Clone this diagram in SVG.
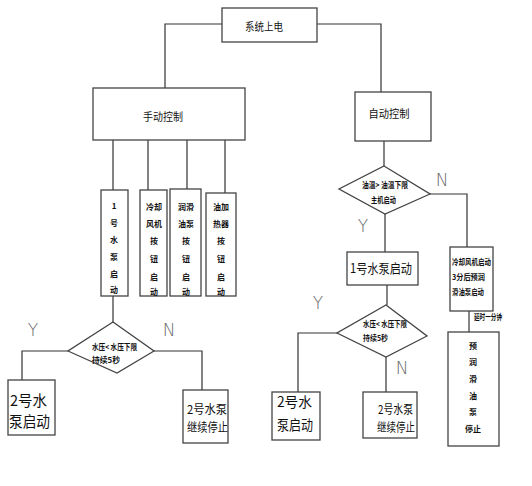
<svg xmlns="http://www.w3.org/2000/svg" width="532" height="486" viewBox="0 0 532 486">
<style>
.box{fill:#fff;stroke:#444;stroke-width:1.3}
.ln{fill:none;stroke:#333;stroke-width:1.2}
.t{font-family:"Noto Sans CJK SC","Liberation Sans",sans-serif;fill:#111}
.m{font-size:11px}
.l{font-size:13px}
.s{font-size:8px;font-weight:bold}
.c{text-anchor:middle}
.yn{font-family:"DejaVu Sans","Liberation Sans",sans-serif;font-size:17px;font-weight:200;fill:#666;text-anchor:middle}
</style>
<rect width="532" height="486" fill="#fff"/>
<g id="connectors" class="ln">
<path d="M222,24 H165 V88"/>
<path d="M317,24 H381 V92"/>
<path d="M113,140 V190 M148,140 V190 M187,140 V189 M225,140 V193"/>
<path d="M113,296 V322"/>
<path d="M68,351 H22 V380"/>
<path d="M154,351 H202 V390"/>
<path d="M384,141 V166"/>
<path d="M430,194 H467 V247"/>
<path d="M385,214 V252"/>
<path d="M387,285 V305"/>
<path d="M337,333 H298 V392"/>
<path d="M386,357 V392"/>
<path d="M469,311 V332"/>
</g>
<g id="labels">
<text class="yn" x="33" y="336">Y</text>
<text class="yn" x="169" y="336">N</text>
<text class="yn" x="363" y="232">Y</text>
<text class="yn" x="442" y="186">N</text>
<text class="yn" x="318" y="309">Y</text>
<text class="yn" x="402" y="374">N</text>
<text class="t s" x="474" y="320" textLength="28" lengthAdjust="spacingAndGlyphs">延时一分钟</text>
</g>
<g id="power">
<rect class="box" x="222" y="8" width="95" height="34"/>
<text class="t m c" x="264" y="31" textLength="38" lengthAdjust="spacingAndGlyphs">系统上电</text>
</g>
<g id="manual">
<rect class="box" x="93" y="88" width="152" height="52"/>
<text class="t m c" x="163" y="121" textLength="40" lengthAdjust="spacingAndGlyphs">手动控制</text>
</g>
<g id="auto">
<rect class="box" x="355" y="92" width="76" height="49"/>
<text class="t m c" x="389" y="118" textLength="41" lengthAdjust="spacingAndGlyphs">自动控制</text>
</g>
<g id="m1">
<rect class="box" x="101" y="190" width="27" height="106"/>
<text class="t s c" x="114"><tspan x="114" y="209">1</tspan><tspan x="114" y="226">号</tspan><tspan x="114" y="243">水</tspan><tspan x="114" y="260">泵</tspan><tspan x="114" y="277">启</tspan><tspan x="114" y="293">动</tspan></text>
</g>
<g id="m2">
<rect class="box" x="140" y="190" width="27" height="106"/>
<text class="t s c" x="154"><tspan x="154" y="210">冷却</tspan><tspan x="154" y="227">风机</tspan><tspan x="154" y="244">按</tspan><tspan x="154" y="262">钮</tspan><tspan x="154" y="280">启</tspan><tspan x="154" y="295">动</tspan></text>
</g>
<g id="m3">
<rect class="box" x="170" y="189" width="31" height="107"/>
<text class="t s c" x="186"><tspan x="186" y="210">润滑</tspan><tspan x="186" y="227">油泵</tspan><tspan x="186" y="244">按</tspan><tspan x="186" y="262">钮</tspan><tspan x="186" y="280">启</tspan><tspan x="186" y="295">动</tspan></text>
</g>
<g id="m4">
<rect class="box" x="206" y="193" width="30" height="103"/>
<text class="t s c" x="221"><tspan x="221" y="210">油加</tspan><tspan x="221" y="227">热器</tspan><tspan x="221" y="244">按</tspan><tspan x="221" y="262">钮</tspan><tspan x="221" y="280">启</tspan><tspan x="221" y="295">动</tspan></text>
</g>
<g id="d1">
<polygon class="box" points="113,322 154,351 117,373 68,351"/>
<text class="t s" x="92" y="350" textLength="45" lengthAdjust="spacingAndGlyphs">水压&lt; 水压下限</text>
<text class="t s" x="92" y="363" textLength="28" lengthAdjust="spacingAndGlyphs">持续5秒</text>
</g>
<g id="l2start">
<rect class="box" x="8" y="380" width="47" height="55"/>
<text class="t" x="10" y="406" font-size="15" textLength="37" lengthAdjust="spacingAndGlyphs">2号水</text>
<text class="t" x="9" y="427" font-size="15" textLength="41" lengthAdjust="spacingAndGlyphs">泵启动</text>
</g>
<g id="l2stop">
<rect class="box" x="183" y="390" width="45" height="53"/>
<text class="t" x="187" y="414" font-size="12" textLength="40" lengthAdjust="spacingAndGlyphs">2号水泵</text>
<text class="t" x="187" y="432" font-size="12" textLength="41" lengthAdjust="spacingAndGlyphs">继续停止</text>
</g>
<g id="d2">
<polygon class="box" points="384,166 430,194 385,214 339,189"/>
<text class="t s" x="362" y="188" textLength="46" lengthAdjust="spacingAndGlyphs">油温&gt; 油温下限</text>
<text class="t s" x="371" y="203" textLength="25" lengthAdjust="spacingAndGlyphs">主机启动</text>
</g>
<g id="a1">
<rect class="box" x="347" y="252" width="71" height="33"/>
<text class="t l" x="350" y="273" textLength="62" lengthAdjust="spacingAndGlyphs">1号水泵启动</text>
</g>
<g id="fan">
<rect class="box" x="450" y="247" width="43" height="64"/>
<text class="t s" x="452" y="265" textLength="39" lengthAdjust="spacingAndGlyphs">冷却风机启动</text>
<text class="t s" x="452" y="280" textLength="33" lengthAdjust="spacingAndGlyphs">3分后预润</text>
<text class="t s" x="452" y="295" textLength="32" lengthAdjust="spacingAndGlyphs">滑油泵启动</text>
</g>
<g id="d3">
<polygon class="box" points="386,305 427,336 386,357 337,333"/>
<text class="t s" x="363" y="327" textLength="44" lengthAdjust="spacingAndGlyphs">水压&lt; 水压下限</text>
<text class="t s" x="363" y="341" textLength="25" lengthAdjust="spacingAndGlyphs">持续5秒</text>
</g>
<g id="a2start">
<rect class="box" x="272" y="392" width="48" height="48"/>
<text class="t" x="277" y="407" font-size="14" textLength="35" lengthAdjust="spacingAndGlyphs">2号水</text>
<text class="t" x="277" y="430" font-size="14" textLength="36" lengthAdjust="spacingAndGlyphs">泵启动</text>
</g>
<g id="a2stop">
<rect class="box" x="363" y="392" width="54" height="46"/>
<text class="t" x="378" y="414" font-size="12" textLength="35" lengthAdjust="spacingAndGlyphs">2号水泵</text>
<text class="t" x="377" y="432" font-size="12" textLength="38" lengthAdjust="spacingAndGlyphs">继续停止</text>
</g>
<g id="prestop">
<rect class="box" x="448" y="332" width="51" height="114"/>
<text class="t s c" x="473"><tspan x="473" y="349">预</tspan><tspan x="473" y="365">润</tspan><tspan x="473" y="382">滑</tspan><tspan x="473" y="399">油</tspan><tspan x="473" y="415">泵</tspan><tspan x="473" y="432">停止</tspan></text>
</g>
</svg>
